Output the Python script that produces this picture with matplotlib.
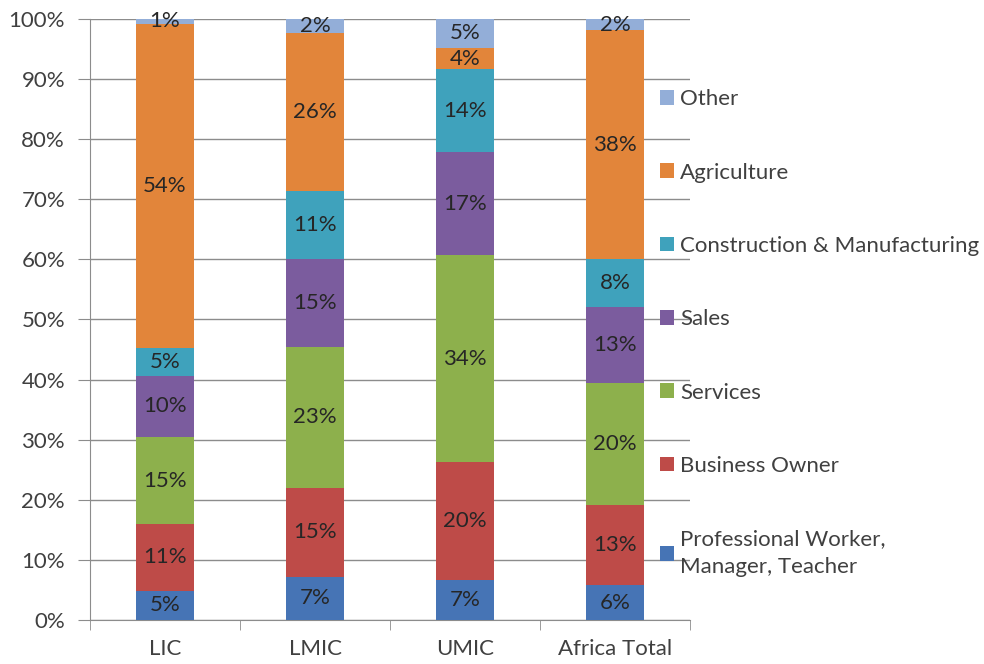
import numpy as np
import matplotlib.pyplot as plt

plt.rcParams['font.family'] = ['Lato', 'DejaVu Sans']

regions = ['LIC', 'LMIC', 'UMIC', 'Africa Total']

# share of each occupation group, bottom to top
professional = [4.9, 7.2, 6.6, 5.8]
business = [11.0, 14.8, 19.7, 13.3]
services = [14.6, 23.4, 34.4, 20.3]
sales = [10.1, 14.7, 17.1, 12.6]
construction = [4.6, 11.3, 13.8, 8.0]
agriculture = [54.0, 26.2, 3.6, 38.1]
other = [0.8, 2.4, 4.8, 1.9]

series = [
    ('Professional Worker,\nManager, Teacher', professional, '#4674B5'),
    ('Business Owner', business, '#BE4B48'),
    ('Services', services, '#8DB04C'),
    ('Sales', sales, '#7B5C9E'),
    ('Construction & Manufacturing', construction, '#3FA2BC'),
    ('Agriculture', agriculture, '#E2853A'),
    ('Other', other, '#93AED8'),
]

fs = 16

fig = plt.figure(figsize=(9.84, 6.64), dpi=100)
ax = fig.add_axes([0.0915, 0.0663, 0.6098, 0.9051])

x = np.arange(len(regions))
bottom = np.zeros(len(regions))
for name, vals, col in series:
    vals = np.array(vals)
    ax.bar(x, vals, 0.39, bottom=bottom, color=col, label=name, zorder=3)
    for xi, b, v in zip(x, bottom, vals):
        ax.text(xi, b + v / 2, f'{v:.0f}%', ha='center', va='center',
                fontsize=fs, color='#262626', zorder=4)
    bottom += vals

ax.set_xlim(-0.5, 3.5)
ax.set_ylim(0, 100)
ax.set_yticks(np.arange(0, 101, 10))
ax.set_yticklabels([f'{t}%' for t in range(0, 101, 10)])
ax.set_xticks(x)
ax.set_xticklabels(regions)
ax.set_xticks(np.arange(-0.5, 4, 1), minor=True)
ax.tick_params(axis='x', which='major', length=0, pad=14)
ax.tick_params(axis='x', which='minor', length=7, color='#8c8c8c', direction='out')
ax.tick_params(axis='y', length=9, color='#8c8c8c', pad=9)
ax.tick_params(labelsize=fs, labelcolor='#404040')

ax.grid(axis='y', color='#8c8c8c', linewidth=1, zorder=0)
for s in ['top', 'right']:
    ax.spines[s].set_visible(False)
for s in ['left', 'bottom']:
    ax.spines[s].set_color('#8c8c8c')

handles, labels = ax.get_legend_handles_labels()
leg = ax.legend(handles[::-1], labels[::-1], loc='upper left',
                bbox_to_anchor=(0.935, 0.898), frameon=False, fontsize=fs,
                handlelength=0.65, handleheight=0.65, handletextpad=0.25,
                labelspacing=2.4, borderaxespad=0)
for t in leg.get_texts():
    t.set_color('#404040')
    t.set_linespacing(1.5)

fig.savefig('out.png', dpi=100)
